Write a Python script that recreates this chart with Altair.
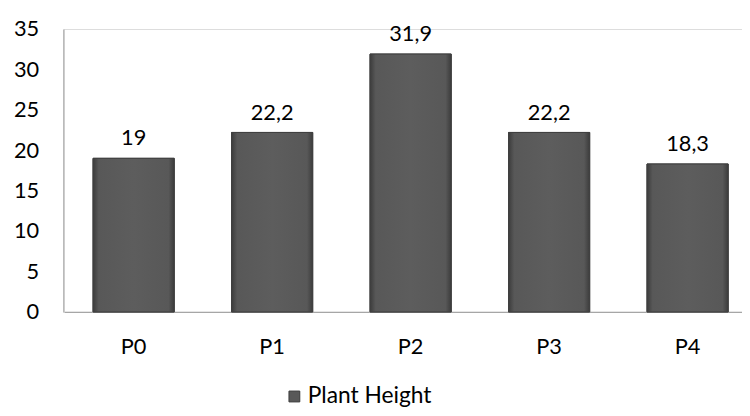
import altair as alt
import pandas as pd

categories = ["P0", "P1", "P2", "P3", "P4"]
values = [19, 22.2, 31.9, 22.2, 18.3]
series_name = "Plant Height"
y_ticks = [0, 5, 10, 15, 20, 25, 30, 35]

df = pd.DataFrame({"cat": categories, "value": values, "series": [series_name] * len(categories)})

FONT = "Lato"
FS = 22
x_enc = alt.X("cat:N", sort=categories, title=None,
              scale=alt.Scale(range=[1, 701], paddingInner=0.414, paddingOuter=0.207),
              axis=alt.Axis(labelAngle=0, ticks=False, domainColor="#a6a6a6", domainWidth=1.2,
                            labelFontSize=FS, labelFont=FONT, labelColor="#000000",
                            labelPadding=25, labelBaseline="top"))
y_enc = alt.Y("value:Q", title=None,
              scale=alt.Scale(domain=[0, 35], nice=False),
              axis=alt.Axis(values=y_ticks, ticks=False, grid=False, domainColor="#a6a6a6",
                            domainWidth=1.2, labelFontSize=FS, labelFont=FONT,
                            labelColor="#000000", labelPadding=25))

base = alt.Chart(df)

legend_bars = base.mark_bar(stroke="#3a3a3a", strokeWidth=1).encode(
    x=x_enc, y=y_enc,
    color=alt.Color("series:N", scale=alt.Scale(range=["#595959"]),
                    legend=alt.Legend(title=None, orient="none", legendX=222, legendY=360,
                                      symbolType="square", symbolSize=120,
                                      symbolStrokeColor="#3a3a3a", symbolStrokeWidth=1,
                                      labelFontSize=FS + 1, labelFont=FONT, labelColor="#000000",
                                      labelOffset=2))
)

gradient = alt.Gradient(
    gradient="linear", x1=0, x2=1, y1=0, y2=0,
    stops=[alt.GradientStop(color="#3c3c3c", offset=0),
           alt.GradientStop(color="#585858", offset=0.07),
           alt.GradientStop(color="#5d5d5d", offset=0.5),
           alt.GradientStop(color="#585858", offset=0.93),
           alt.GradientStop(color="#3c3c3c", offset=1)])

grad_bars = base.mark_bar(fill=gradient, stroke="#404040", strokeWidth=1).encode(x=x_enc, y=y_enc)

labels = base.transform_calculate(
    label="replace(toString(datum.value), '.', ',')"
).mark_text(dy=-8, baseline="bottom", fontSize=FS, font=FONT, color="#000000").encode(
    x=x_enc, y=y_enc, text="label:N")

chart = alt.layer(legend_bars, grad_bars, labels).properties(
    width=686, height=286,
    padding={"left": 56, "top": 19, "right": 0, "bottom": 103},
    autosize=alt.AutoSizeParams(type="none"),
).configure_view(stroke=None).configure(background="#ffffff")

chart.save("out.html", embed_options={"renderer": "svg", "actions": False})
